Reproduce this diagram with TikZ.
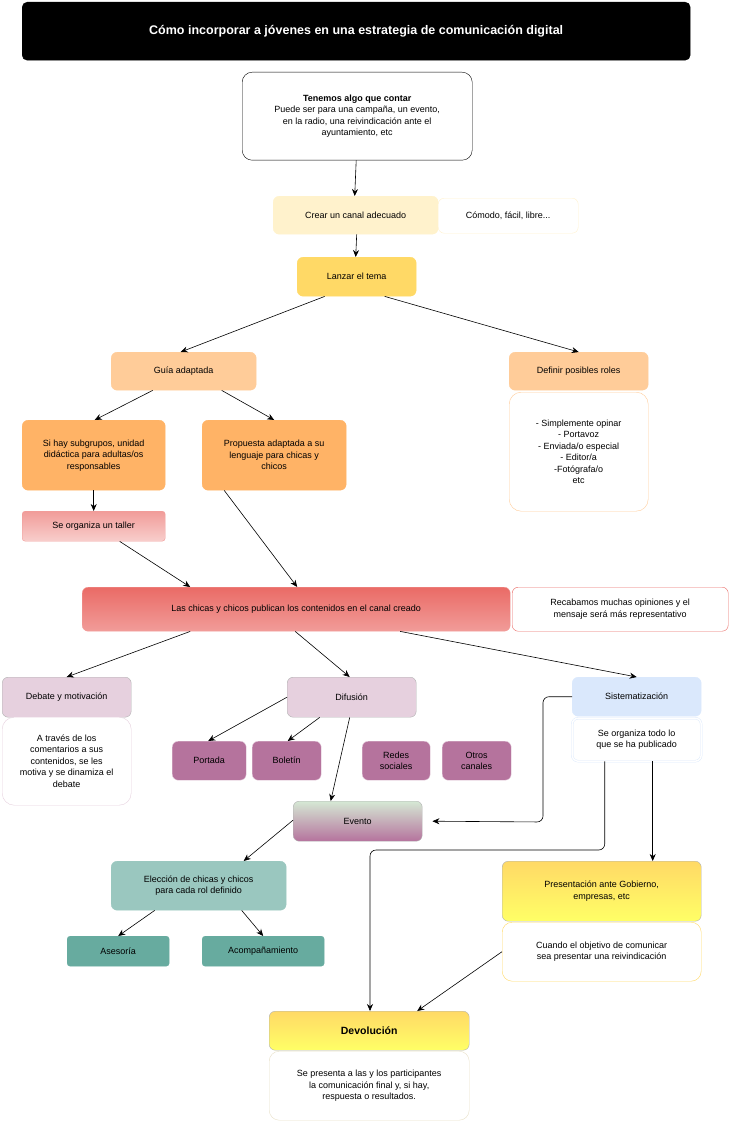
\documentclass[tikz,border=0pt]{standalone}
\usepackage{fontspec}
\setmainfont{Liberation Sans}
\usetikzlibrary{arrows.meta,calc}
\definecolor{cy1}{HTML}{FFF2CC}
\definecolor{cy2}{HTML}{FFD966}
\definecolor{cy3}{HTML}{FFFF66}
\definecolor{cor1}{HTML}{FFCC99}
\definecolor{cor2}{HTML}{FFB366}
\definecolor{cr1}{HTML}{EA6B66}
\definecolor{cr2}{HTML}{F8CECC}
\definecolor{cr3}{HTML}{F19C99}
\definecolor{cp1}{HTML}{E6D0DE}
\definecolor{cp2}{HTML}{B5739D}
\definecolor{cb1}{HTML}{DAE8FC}
\definecolor{cg1}{HTML}{D5E8D4}
\definecolor{ct1}{HTML}{9AC7BF}
\definecolor{ct2}{HTML}{67AB9F}
\begin{document}
\begin{tikzpicture}[x=1pt,y=-1pt,
  box/.style={draw=#1,rounded corners=6pt,anchor=north west,align=center,inner sep=2pt,font=\fontsize{9}{11.5}\selectfont},
  box/.default=black!30,
  arr/.style={-{Stealth[length=7pt,width=6pt]},black,line width=0.6pt}]
\useasboundingbox (0,0) rectangle (730,1126);
\newcommand{\bx}[7][]{\node[box=#2,#1,minimum width=#5-#3,minimum height=#6-#4] (#7) at (#3,#4)}
% title
\bx[fill=black,text=white,font=\fontsize{12.5}{14}\bfseries,rounded corners=5pt]{black}{22}{2}{690}{60}{title} {Cómo incorporar a jóvenes en una estrategia de comunicación digital};
\bx[rounded corners=10pt]{black}{242}{72}{472}{160}{tenemos} {\textbf{Tenemos algo que contar}\\Puede ser para una campaña, un evento,\\en la radio, una reivindicación ante el\\ayuntamiento, etc};
\bx[fill=cy1]{cy1}{273}{196}{438}{234}{crear} {Crear un canal adecuado};
\bx[fill=white]{cy1}{438}{198}{578}{233}{comodo} {Cómodo, fácil, libre...};
\bx[fill=cy2]{cy2}{297}{257}{416}{296}{lanzar} {Lanzar el tema};
\bx[fill=cor1]{cor1}{111}{352}{256}{390}{guia} {Guía adaptada};
\bx[fill=cor1]{cor1}{509}{352}{648}{390}{definir} {Definir posibles roles};
\bx[fill=white,rounded corners=12pt]{cor1}{509}{392}{648}{511}{roles} {- Simplemente opinar\\- Portavoz\\- Enviada/o especial\\- Editor/a\\-Fotógrafa/o\\etc};
\bx[fill=cor2]{cor2}{22}{420}{165}{490}{sihay} {Si hay subgrupos, unidad\\didáctica para adultas/os\\responsables};
\bx[fill=cor2]{cor2}{202}{420}{346}{490}{propuesta} {Propuesta adaptada a su\\lenguaje para chicas y\\chicos};
\bx[top color=cr3,bottom color=cr2,rounded corners=3pt]{cr3}{22}{511}{165}{541}{taller} {Se organiza un taller};
\bx[top color=cr1,bottom color=cr3]{cr3}{82}{587}{510}{631}{publican} {Las chicas y chicos publican los contenidos en el canal creado};
\bx[fill=white]{cr1}{512}{587}{728}{631}{recabamos} {Recabamos muchas opiniones y el\\mensaje será más representativo};
\bx[fill=cp1]{black!30}{2}{677}{131}{717}{debate} {Debate y motivación};
\bx[fill=white,rounded corners=12pt]{cp1}{2}{717}{131}{805}{debtext} {A través de los\\comentarios a sus\\contenidos, se les\\motiva y se dinamiza el\\debate};
\bx[fill=cp1]{black!30}{287}{677}{416}{717}{difusion} {Difusión};
\bx[fill=cb1]{cb1}{572}{677}{701}{716}{sist} {Sistematización};
\bx[fill=white,double=white,draw=cb1,double distance=1.5pt]{cb1}{572}{718}{701}{761}{sisttext} {Se organiza todo lo\\que se ha publicado};
\bx[fill=cp2]{cp1}{172}{741}{246}{780}{portada} {Portada};
\bx[fill=cp2]{cp1}{252}{741}{321}{780}{boletin} {Boletín};
\bx[fill=cp2]{cp1}{362}{741}{430}{780}{redes} {Redes\\sociales};
\bx[fill=cp2]{cp1}{442}{741}{511}{780}{otros} {Otros\\canales};
\bx[top color=cg1,bottom color=cp2]{black!30}{293}{801}{422}{841}{evento} {Evento};
\bx[fill=ct1]{ct1}{111}{861}{286}{910}{eleccion} {Elección de chicas y chicos\\para cada rol definido};
\bx[fill=ct2,rounded corners=3pt]{ct2}{67}{936}{169}{966}{asesoria} {Asesoría};
\bx[fill=ct2,rounded corners=3pt]{ct2}{202}{936}{324}{966}{acomp} {Acompañamiento};
\bx[top color=cy2,bottom color=cy3]{black!30}{502}{861}{701}{921}{present} {Presentación ante Gobierno,\\empresas, etc};
\bx[fill=white,rounded corners=10pt]{cy2}{502}{922}{701}{981}{prestext} {Cuando el objetivo de comunicar\\sea presentar una reivindicación};
\bx[top color=cy2,bottom color=cy3,font=\fontsize{10.5}{12}\bfseries]{black!30}{269}{1011}{469}{1050}{devol} {Devolución};
\bx[fill=white,rounded corners=10pt]{cy2!70!black!30}{269}{1051}{469}{1120}{devtext} {Se presenta a las y los participantes\\la comunicación final y, si hay,\\respuesta o resultados.};
% arrows
\draw[arr] ([xshift=-1pt]tenemos.south) -- ([xshift=-1pt]crear.north);
\draw[arr] ([xshift=1pt]crear.south) -- (crear.south |- lanzar.north);
\draw[arr] ([xshift=-32pt]lanzar.south) -- ([xshift=-3pt]guia.north);
\draw[arr] ([xshift=28pt]lanzar.south) -- ([xshift=0pt]definir.north);
\draw[arr] ([xshift=-31pt]guia.south) -- ([xshift=1pt]sihay.north);
\draw[arr] ([xshift=38pt]guia.south) -- ([xshift=0pt]propuesta.north);
\draw[arr] (sihay.south) -- (sihay.south |- taller.north);
\draw[arr] ([xshift=26pt]taller.south) -- ([xshift=-106pt]publican.north);
\draw[arr] ([xshift=-50pt]propuesta.south) -- ([xshift=1pt]publican.north);
\draw[arr] ([xshift=-106pt]publican.south) -- (debate.north);
\draw[arr] ([xshift=-1pt]publican.south) -- ([xshift=-2pt]difusion.north);
\draw[arr] ([xshift=104pt]publican.south) -- (sist.north);
\draw[arr] (difusion.west) -- ([xshift=-1pt]portada.north);
\draw[arr] ([xshift=-32pt]difusion.south) -- ([xshift=1pt]boletin.north);
\draw[arr] ([xshift=-2pt]difusion.south) -- ([xshift=-27pt]evento.north);
\coordinate (ev1) at ([xshift=10pt]evento.east);
\draw[arr,rounded corners=6pt] (sist.west) -| (543,822) -- (ev1);
\draw[arr,rounded corners=6pt] ([xshift=-32pt]sisttext.south) |- (370,850) -- (devol.north -| 370,0);
\draw[arr] ([xshift=16pt]sisttext.south) -- ([xshift=16pt]sisttext.south |- present.north);
\draw[arr] (prestext.west) -- ([xshift=48pt]devol.north);
\draw[arr] ([yshift=1pt]evento.west) -- ([xshift=45pt]eleccion.north);
\draw[arr] ([xshift=-44pt]eleccion.south) -- (asesoria.north);
\draw[arr] ([xshift=43pt]eleccion.south) -- (acomp.north);
\end{tikzpicture}
\end{document}
